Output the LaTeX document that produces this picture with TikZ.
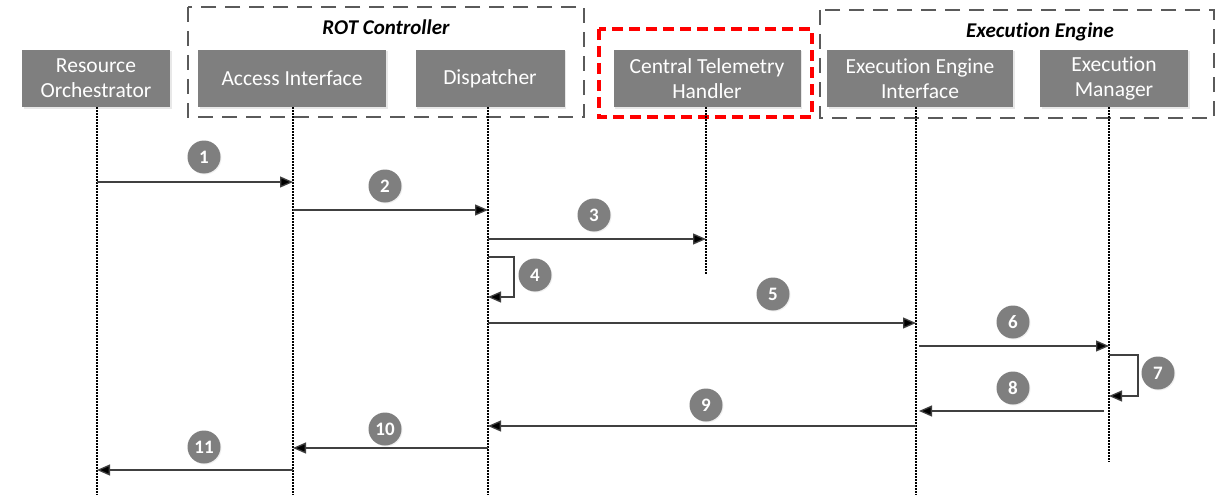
\documentclass[tikz,border=0pt]{standalone}
\usepackage{fontspec}
\setmainfont{Carlito}[Ligatures=NoCommon]
\usetikzlibrary{arrows.meta,shadows}
\definecolor{boxgray}{HTML}{7F7F7F}
\definecolor{linegray}{HTML}{404040}
\definecolor{framegray}{HTML}{5A5A5A}
\begin{document}
\begin{tikzpicture}[x=1pt,y=-1pt,
  actor/.style={rectangle, fill=boxgray, text=white, minimum height=57pt,
    inner sep=2pt, align=center, font=\fontsize{21.5}{25}\selectfont,
    drop shadow={opacity=0.18, shadow xshift=1.5pt, shadow yshift=-1.5pt}},
  group/.style={draw=framegray, line width=1.6pt, dash pattern=on 15pt off 9pt},
  focus/.style={draw=red, line width=4pt, dash pattern=on 11pt off 6pt},
  grouplabel/.style={font=\fontsize{21}{24}\selectfont\bfseries\itshape, text=black},
  life/.style={draw=black, line width=1.8pt, dash pattern=on 1.5pt off 1.5pt},
  msg/.style={draw=linegray, line width=1.3pt, -{Triangle[length=13pt,width=11pt,fill=black]}},
  num/.style={circle, fill=boxgray, text=white, minimum size=33pt, inner sep=0pt,
    font=\fontsize{19}{19}\selectfont\bfseries,
    drop shadow={opacity=0.12, shadow xshift=1pt, shadow yshift=-1pt}}]
\useasboundingbox (0,0) rectangle (1218,495);
\fill[white] (0,0) rectangle (1218,495);

% component groups
\draw[group] (188,7) rectangle (584,117);
\draw[group] (820,10) rectangle (1214,118);
\draw[focus] (599,29) rectangle (812,117);
\node[grouplabel] (rotlbl) at (386,27) {ROT Controller};
\node[grouplabel] (eelbl) at (1040,32) {Execution Engine};

% participants
\node[actor, minimum width=148pt] (ro) at (96,78.5) {Resource\\Orchestrator};
\node[actor, minimum width=188pt] (ai) at (292,78.5) {Access Interface};
\node[actor, minimum width=149pt] (dp) at (490,78.5) {Dispatcher};
\node[actor, minimum width=187pt] (th) at (707,78.5) {Central Telemetry\\Handler};
\node[actor, minimum width=186pt] (ei) at (920,78.5) {Execution Engine\\Interface};
\node[actor, minimum width=148pt] (em) at (1114,78.5) {Execution\\Manager};

% lifelines
\coordinate (lro) at ([xshift=1pt]ro.south);
\coordinate (lai) at ([xshift=1pt]ai.south);
\coordinate (ldp) at ([xshift=-2pt]dp.south);
\coordinate (lth) at ([xshift=-1pt]th.south);
\coordinate (lei) at ([xshift=-4pt]ei.south);
\coordinate (lem) at ([xshift=-5pt]em.south);
\draw[life] (lro) -- (lro |- 0,495);
\draw[life] (lai) -- (lai |- 0,495);
\draw[life] (ldp) -- (ldp |- 0,495);
\draw[life] (lth) -- (lth |- 0,275);
\draw[life] (lei) -- (lei |- 0,495);
\draw[life] (lem) -- (lem |- 0,462);

% messages
\draw[msg] (lro |- 0,182) -- (lai |- 0,182);
\draw[msg] (lai |- 0,210) -- (ldp |- 0,210);
\draw[msg] (ldp |- 0,239) -- (lth |- 0,239);
\draw[msg] (ldp |- 0,257) -| ([xshift=26pt]ldp |- 0,297) -- (ldp |- 0,297);
\draw[msg] (ldp |- 0,323) -- (lei |- 0,323);
\draw[msg] ([xshift=3pt]lei |- 0,346) -- (lem |- 0,346);
\draw[msg] (lem |- 0,355) -| ([xshift=29pt]lem |- 0,396) -- (lem |- 0,396);
\draw[msg] ([xshift=-5pt]lem |- 0,411) -- ([xshift=3pt]lei |- 0,411);
\draw[msg] (lei |- 0,426) -- (ldp |- 0,426);
\draw[msg] (ldp |- 0,448) -- (lai |- 0,448);
\draw[msg] (lai |- 0,470) -- (lro |- 0,470);

% step numbers
\node[num] (n1) at (204,157) {1};
\node[num] (n2) at (385,186) {2};
\node[num] (n3) at (594,215) {3};
\node[num] (n4) at (535,275) {4};
\node[num] (n5) at (773,294) {5};
\node[num] (n6) at (1013,322) {6};
\node[num] (n7) at (1158,373) {7};
\node[num] (n8) at (1013,388) {8};
\node[num] (n9) at (706,405) {9};
\node[num] (n10) at (385,429) {10};
\node[num] (n11) at (204,447) {11};
\end{tikzpicture}
\end{document}
